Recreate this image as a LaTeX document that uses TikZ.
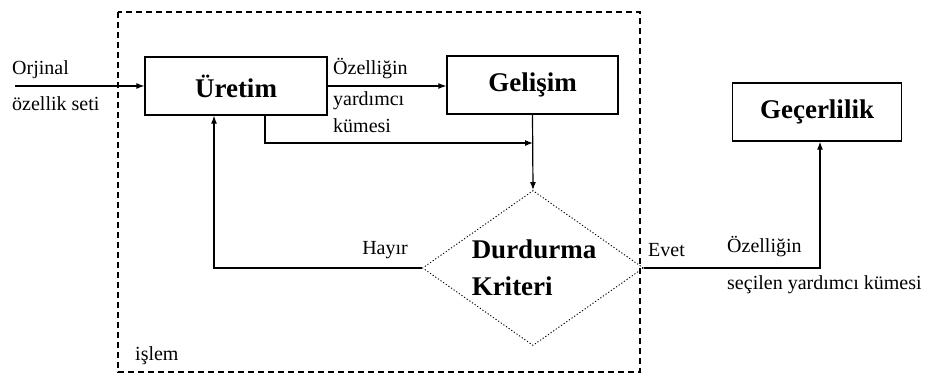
\documentclass[tikz,border=0pt]{standalone}
\usepackage{fontspec}
\setmainfont{Liberation Serif}
\usetikzlibrary{arrows.meta,shapes.geometric}
\tikzset{
  box/.style={draw,line width=1.3pt,rectangle,minimum width=#1,minimum height=58pt,inner sep=0pt,font=\fontsize{27}{30}\selectfont\bfseries},
  arr/.style={line width=1.2pt,-{Latex[length=8pt,width=6pt]}},
  lbl/.style={anchor=west,inner sep=0pt,font=\fontsize{20}{23}\selectfont},
  lble/.style={anchor=east,inner sep=0pt,font=\fontsize{20}{23}\selectfont},
  frame/.style={line width=1.4pt,dash pattern=on 6pt off 4pt},
  dia/.style={draw,diamond,line width=0.9pt,dash pattern=on 1.2pt off 2pt,minimum width=221pt,minimum height=155pt,inner sep=0pt}
}
\begin{document}
\begin{tikzpicture}[x=1pt,y=-1pt]
\useasboundingbox (0,0) rectangle (933,378);
% process frame
\draw[frame] (118,12) rectangle (640,372);
% boxes
\node[box=182pt] (uretim) at (236,86) {Üretim};
\node[box=171pt] (gelisim) at (532.5,85) {Gelişim};
\node[box=169pt] (gecer) at (817,112) {Geçerlilik};
\node[dia] (dur) at (533,268) {};
\node[align=left,inner sep=0pt,font=\fontsize{27}{37}\selectfont\bfseries] (durtext) at (534,268) {Durdurma\\Kriteri};
% coordinates
\coordinate (start) at (15,86);
\coordinate (join) at (533,143);
% connectors
\draw[arr] (start) -- (uretim.west |- start);
\draw[arr] (uretim.east |- start) -- (gelisim.west |- start);
\draw[arr] ([xshift=29pt]uretim.south) |- (join);
\draw[arr] (gelisim.south) -- (dur.north);
\draw[arr] (dur.west) -| ([xshift=-22pt]uretim.south);
\draw[arr] (dur.east) -| ([xshift=3pt]gecer.south);
% labels
\node[lbl] (l1) at (12,70) {Orjinal};
\node[lbl] (l2) at (12,104) {özellik seti};
\node[lbl] (l3) at (333,69) {Özelliğin};
\node[lbl] (l4) at (333,101) {yardımcı};
\node[lbl] (l5) at (333,126) {kümesi};
\node[lble] (l6) at (408,250) {Hayır};
\node[lbl] (l7) at (648,250) {Evet};
\node[lbl] (l8) at (727,247) {Özelliğin};
\node[lbl] (l9) at (727,285) {seçilen yardımcı kümesi};
\node[lbl] (l10) at (135,356) {işlem};
\end{tikzpicture}
\end{document}
